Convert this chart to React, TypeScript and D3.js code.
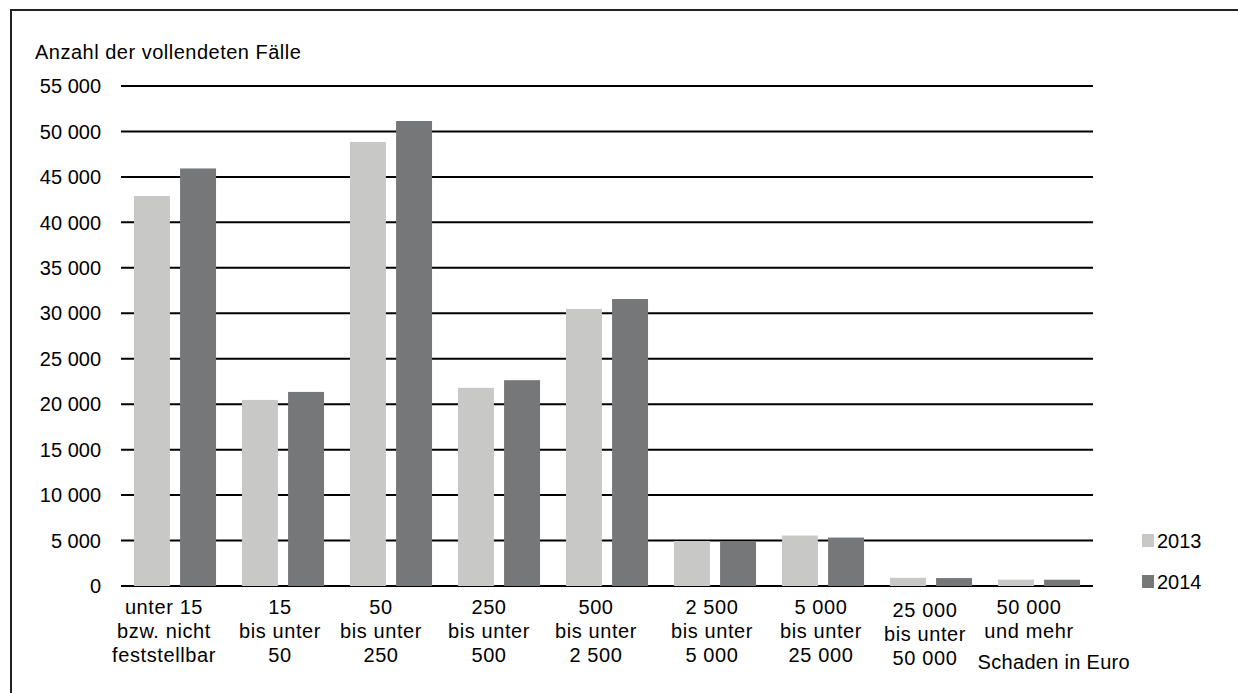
import React from "react";
import * as d3 from "d3";

const categories: string[][] = [
  ["unter 15", "bzw. nicht", "feststellbar"],
  ["15", "bis unter", "50"],
  ["50", "bis unter", "250"],
  ["250", "bis unter", "500"],
  ["500", "bis unter", "2 500"],
  ["2 500", "bis unter", "5 000"],
  ["5 000", "bis unter", "25 000"],
  ["25 000", "bis unter", "50 000"],
  ["50 000", "und mehr"],
];
const seriesNames = ["2013", "2014"];
const values2013 = [42900, 20470, 48850, 21800, 30470, 4950, 5550, 900, 700];
const values2014 = [45930, 21350, 51150, 22640, 31570, 4940, 5330, 870, 690];
const yTicks = [0, 5000, 10000, 15000, 20000, 25000, 30000, 35000, 40000, 45000, 50000, 55000];
const yTitle = "Anzahl der vollendeten Fälle";
const xTitle = "Schaden in Euro";

const colors = ["#c8c8c6", "#767779"];
const FONT = "'Liberation Sans', Arial, sans-serif";
// small horizontal/vertical nudges of the category labels, as in the original layout
const labelDx = [-11, -3, -10, -10, -11, -3, -2, -6, -10];
const labelDy = [0, 0, 0, 0, 0, 0, 0, 3, 0];

export default function App() {
  const W = 1238, H = 693;
  const left = 121, right = 1093, top = 86, bottom = 586;
  const keys = categories.map((c) => c.join(" "));
  const x = d3.scaleBand<string>().domain(keys).range([left, right]).padding(0);
  const bw = x.bandwidth();
  const xs = d3.scaleBand<string>().domain(seriesNames).range([bw * 0.12, bw * 0.88]).paddingInner(0.22).paddingOuter(0);
  const y = d3.scaleLinear().domain([0, 55000]).range([bottom, top]);
  const loc = d3.formatLocale({ decimal: ",", thousands: " ", grouping: [3], currency: ["", " €"] });
  const fmt = loc.format(",d");
  const series = [values2013, values2014];
  const fs = 20;

  return (
    <svg width={W} height={H} style={{ position: "absolute", left: 0, top: 0, background: "#fff" }} fontFamily={FONT}>
      <rect x={11} y={10} width={W + 20} height={H + 20} fill="#fff" stroke="#222" strokeWidth={2} />
      <text x={35} y={59} fontSize={fs} letterSpacing={0.5} fill="#000">{yTitle}</text>
      {yTicks.map((t) => (
        <g key={t}>
          <line x1={left} x2={right} y1={y(t)} y2={y(t)} stroke="#000" strokeWidth={2} />
          <text x={101} y={y(t)} dy="0.36em" textAnchor="end" fontSize={fs} fill="#000">{fmt(t)}</text>
        </g>
      ))}
      {series.map((vals, si) =>
        vals.map((v, i) => (
          <rect
            key={si + "-" + i}
            x={(x(keys[i]) as number) + (xs(seriesNames[si]) as number)}
            y={y(v)}
            width={xs.bandwidth()}
            height={y(0) - y(v)}
            fill={colors[si]}
          />
        ))
      )}
      {categories.map((lines, i) => (
        <text key={i} textAnchor="middle" fontSize={fs} letterSpacing={0.6} fill="#000">
          {lines.map((l, li) => (
            <tspan key={li} x={(x(keys[i]) as number) + bw / 2 + labelDx[i]} y={614 + labelDy[i] + li * 24}>{l}</tspan>
          ))}
        </text>
      ))}
      <text x={1130} y={669} textAnchor="end" fontSize={fs} letterSpacing={0.3} fill="#000">{xTitle}</text>
      {seriesNames.map((s, si) => (
        <g key={s}>
          <rect x={1142} y={534 + si * 41} width={12} height={13} fill={colors[si]} />
          <text x={1157} y={541 + si * 41} dy="0.36em" fontSize={fs} fill="#000">{s}</text>
        </g>
      ))}
    </svg>
  );
}
